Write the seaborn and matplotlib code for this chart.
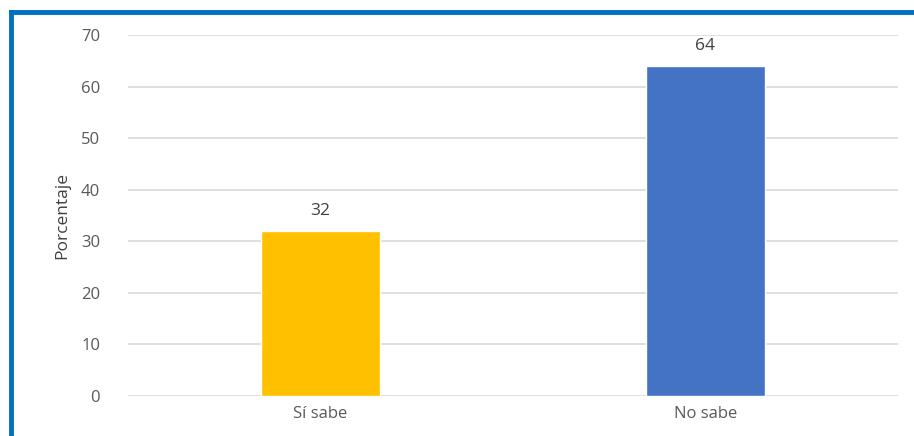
import matplotlib
matplotlib.use("Agg")
import matplotlib.pyplot as plt
import seaborn as sns
import pandas as pd
from matplotlib.lines import Line2D

categories = ["Sí sabe", "No sabe"]
values = [32, 64]
bar_colors = ["#FFC000", "#4472C4"]
yticks = [0, 10, 20, 30, 40, 50, 60, 70]

df = pd.DataFrame({"cat": categories, "val": values})

sns.set_theme(style="white")
plt.rcParams["font.family"] = ["Open Sans", "DejaVu Sans"]

fig = plt.figure(figsize=(9.14, 4.36), dpi=100)
ax = fig.add_axes([0.140, 0.0917, 0.8425, 0.828])

sns.barplot(data=df, x="cat", y="val", hue="cat", palette=bar_colors,
            width=0.31, legend=False, ax=ax, saturation=1)

ax.set_xlim(-0.5, 1.5)
ax.set_ylim(0, 70)
ax.set_yticks(yticks)
ax.yaxis.grid(True, color="#D9D9D9", linewidth=1.2)
ax.set_axisbelow(True)
for s in ax.spines.values():
    s.set_visible(False)
ax.tick_params(axis="both", length=0, colors="#595959", labelsize=12)
ax.tick_params(axis="y", pad=20)
ax.tick_params(axis="x", pad=7)
ax.set_xlabel("")
ax.set_ylabel("Porcentaje", color="#404040", fontsize=12.5, labelpad=8,
              family=["Liberation Sans Narrow", "Open Sans", "DejaVu Sans"])

for i, v in enumerate(values):
    ax.text(i, v + 2.3, f"{v}", ha="center", va="bottom", color="#404040", fontsize=12.5)

# outer frame (top and left blue border)
fig.add_artist(Line2D([10.5/914, 10.5/914], [0, 1 - 12/436], transform=fig.transFigure,
                      color="#0070C0", linewidth=3.5, solid_capstyle="projecting"))
fig.add_artist(Line2D([10.5/914, 1], [1 - 12/436, 1 - 12/436], transform=fig.transFigure,
                      color="#0070C0", linewidth=3.5, solid_capstyle="projecting"))

fig.savefig("out.png", dpi=100)
